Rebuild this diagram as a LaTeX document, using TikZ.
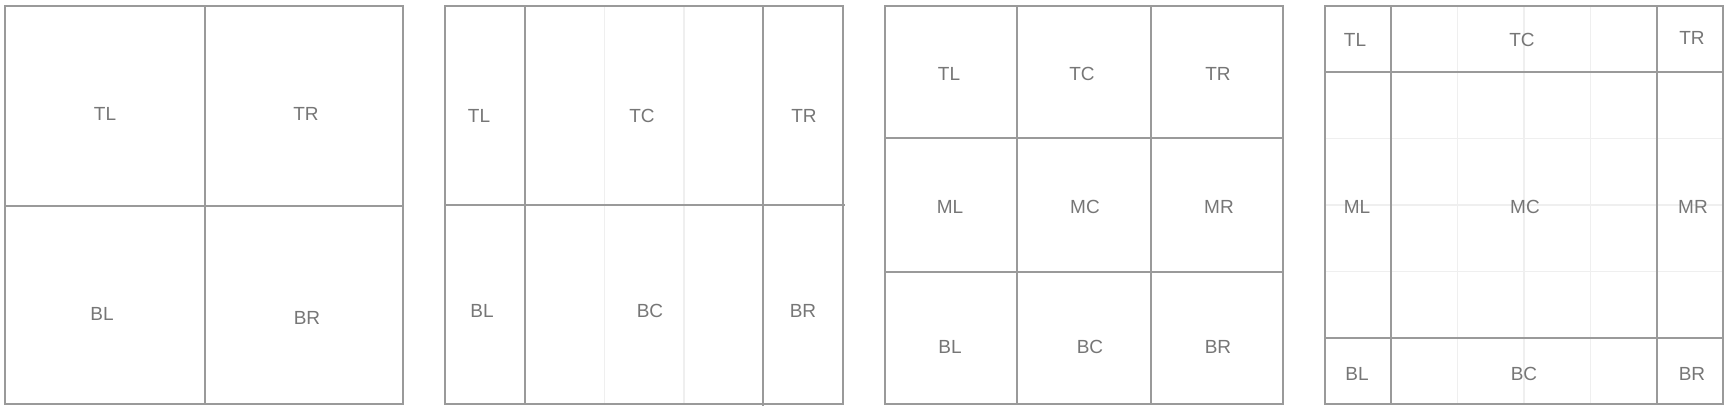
\documentclass[tikz,border=0pt]{standalone}
\usepackage{fontspec}
\setmainfont{Liberation Sans}
\usepackage{xcolor}
\usetikzlibrary{positioning}
\definecolor{edge}{HTML}{9A9A9A}
\definecolor{faint}{HTML}{EFEFEF}
\definecolor{txt}{HTML}{767676}

\begin{document}
\begin{tikzpicture}[x=1pt,y=-1pt,
  lbl/.style={text=txt,font=\fontsize{19}{22}\selectfont,inner sep=0pt},
  frame/.style={draw=edge,line width=2pt},
  guide/.style={draw=faint,line width=1.5pt}]
\useasboundingbox (0,0) rectangle (1730,410);
% pannello 1: 2x2
\draw[frame] (5,6) rectangle (403,404);
\draw[frame] (205,6)--(205,404) (5,206)--(403,206);
\node[lbl] (a-tl) at (105,114) {TL};
\node[lbl] (a-tr) at (306,114) {TR};
\node[lbl] (a-bl) at (102,314) {BL};
\node[lbl] (a-br) at (307,318) {BR};
% pannello 2: colonne 1/5 - 3/5 - 1/5
\draw[guide] (604.3,6)--(604.3,404) (684,6)--(684,404);
\draw[frame] (445,6) rectangle (843,404);
\draw[frame] (524.7,6)--(524.7,404) (763.3,6)--(763.3,406) (445,205)--(845,205);
\node[lbl] (b-tl) at (479,116) {TL};
\node[lbl] (b-tc) at (642,116) {TC};
\node[lbl] (b-tr) at (804,116) {TR};
\node[lbl] (b-bl) at (482,311) {BL};
\node[lbl] (b-bc) at (650,311) {BC};
\node[lbl] (b-br) at (803,311) {BR};
% pannello 3: 3x3
\draw[frame] (885,6) rectangle (1283,404);
\draw[frame] (1017,6)--(1017,404) (1151,6)--(1151,404)
             (885,137.7)--(1283,137.7) (885,271.7)--(1283,271.7);
\node[lbl] (c-tl) at (949,74) {TL};
\node[lbl] (c-tc) at (1082,74) {TC};
\node[lbl] (c-tr) at (1218,74) {TR};
\node[lbl] (c-ml) at (950,207) {ML};
\node[lbl] (c-mc) at (1085,207) {MC};
\node[lbl] (c-mr) at (1219,207) {MR};
\node[lbl] (c-bl) at (950,347) {BL};
\node[lbl] (c-bc) at (1090,347) {BC};
\node[lbl] (c-br) at (1218,347) {BR};
% pannello 4: griglia 6x6, bordi 1/6
\foreach \k in {2,3,4} {
  \draw[guide] (1325+66.33*\k,6)--(1325+66.33*\k,404);
  \draw[guide] (1325,6+66.33*\k)--(1723,6+66.33*\k);
}
\draw[frame] (1325,6) rectangle (1723,404);
\draw[frame] (1391.3,6)--(1391.3,404) (1656.7,6)--(1656.7,404)
             (1325,72.3)--(1723,72.3) (1325,337.7)--(1723,337.7);
\node[lbl] (d-tl) at (1355,40) {TL};
\node[lbl] (d-tc) at (1522,40) {TC};
\node[lbl] (d-tr) at (1692,38) {TR};
\node[lbl] (d-ml) at (1357,207) {ML};
\node[lbl] (d-mc) at (1525,207) {MC};
\node[lbl] (d-mr) at (1693,207) {MR};
\node[lbl] (d-bl) at (1357,374) {BL};
\node[lbl] (d-bc) at (1524,374) {BC};
\node[lbl] (d-br) at (1692,374) {BR};
\end{tikzpicture}
\end{document}
